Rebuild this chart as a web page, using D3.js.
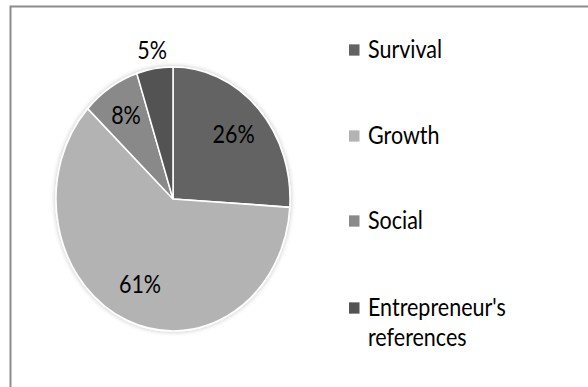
<!DOCTYPE html>
<html>
<head>
<meta charset="utf-8">
<script src="https://cdn.jsdelivr.net/npm/d3@7"></script>
<style>
  html, body { margin: 0; padding: 0; background: #fff; }
  svg { display: block; }
  text { font-family: Lato, "Open Sans", sans-serif; fill: #000; }
</style>
</head>
<body>
<script>
// Share of responses by category
const categories = ["Survival", "Growth", "Social", "Entrepreneur's references"];
const values = [26, 61, 8, 5];
const colors = ["#636363", "#b3b3b3", "#898989", "#535353"];

const W = 588, H = 387;
const stretchY = 1.128;   // vertical aspect of the drawing
const fontSize = 21.5;

const svg = d3.select("body").append("svg")
  .attr("width", W).attr("height", H);

// outer frame
svg.append("rect")
  .attr("x", 10.5).attr("y", 6.5)
  .attr("width", W).attr("height", H)
  .attr("fill", "none").attr("stroke", "#8c8c8c").attr("stroke-width", 2);

const defs = svg.append("defs");
const f = defs.append("filter").attr("id", "soft").attr("x", "-20%").attr("y", "-20%").attr("width", "140%").attr("height", "140%");
f.append("feGaussianBlur").attr("in", "SourceAlpha").attr("stdDeviation", 2.5);
f.append("feComponentTransfer").append("feFuncA").attr("type", "linear").attr("slope", 0.25);
const m = f.append("feMerge");
m.append("feMergeNode");
m.append("feMergeNode").attr("in", "SourceGraphic");

const g = svg.append("g").attr("transform", `scale(1,${stretchY})`);

const cx = 173, cy = 199 / stretchY, r = 117;

const pie = d3.pie().sort(null).value(d => d)(values);
const arc = d3.arc().innerRadius(0).outerRadius(r);

const pg = g.append("g").attr("transform", `translate(${cx},${cy})`);

pg.append("g").attr("filter", "url(#soft)")
  .selectAll("path").data(pie).join("path")
  .attr("d", arc)
  .attr("fill", (d, i) => colors[i])
  .attr("stroke", "#fff").attr("stroke-width", 1.5);

// percentage labels; the smallest slice is labelled outside the pie
const labelRadius = [0.71, 0.71, 0.75, 1.14];

pg.selectAll("text.pct").data(pie).join("text")
  .attr("class", "pct")
  .attr("transform", (d, i) => {
    const rr = r * labelRadius[i];
    const [x, y] = d3.arc().innerRadius(rr).outerRadius(rr).centroid(d);
    return `translate(${x},${y})`;
  })
  .attr("text-anchor", "middle")
  .attr("dy", "0.35em")
  .attr("font-size", fontSize)
  .text(d => d.value + "%");

// legend
const legendY = [50, 136, 221, 308];
const lg = g.append("g");
categories.forEach((c, i) => {
  const y = legendY[i] / stretchY;
  lg.append("rect")
    .attr("x", 349).attr("y", y - 5)
    .attr("width", 10.5).attr("height", 10)
    .attr("fill", colors[i]);
  const words = i === 3 ? ["Entrepreneur's", "references"] : [c];
  const t = lg.append("text")
    .attr("x", 368).attr("y", y)
    .attr("font-size", fontSize);
  words.forEach((w, j) => {
    t.append("tspan").attr("x", 368).attr("dy", j === 0 ? "0.35em" : "1.2em").text(w);
  });
});
</script>
</body>
</html>
